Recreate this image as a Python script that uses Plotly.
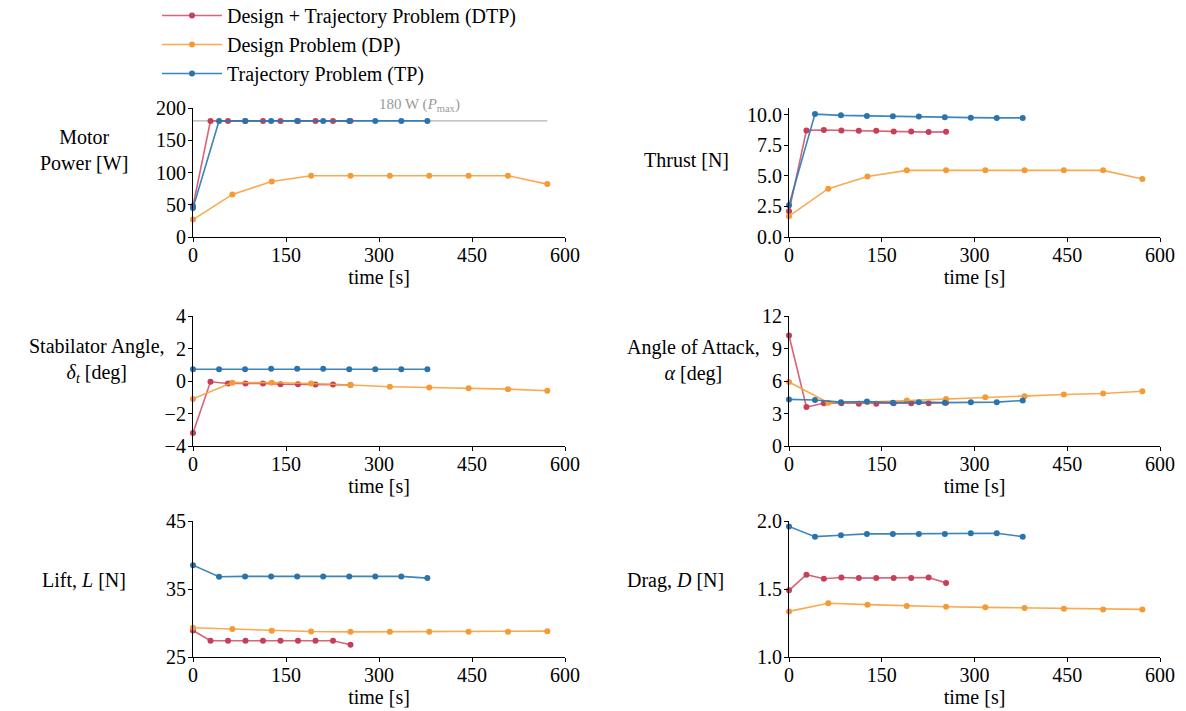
import plotly.graph_objects as go

# ---------------- data ----------------
t_dtp = [0, 28.2, 56.4, 84.7, 112.9, 141.1, 169.3, 197.6, 225.8, 254.0]
t_dp = [0, 63.5, 127.0, 190.5, 254.0, 317.5, 381.0, 444.5, 508.0, 571.5]
t_tp = [0, 42, 84, 126, 168, 210, 252, 294, 336, 378]

power_dtp = [48, 180, 180, 180, 180, 180, 180, 180, 180, 180]
power_dp = [27, 66, 86, 95, 95, 95, 95, 95, 95, 82]
power_tp = [45, 180, 180, 180, 180, 180, 180, 180, 180, 180]
P_MAX = 180

thrust_dtp = [2.1, 8.72, 8.75, 8.72, 8.68, 8.68, 8.62, 8.62, 8.58, 8.6]
thrust_dp = [1.7, 3.95, 4.95, 5.45, 5.45, 5.45, 5.45, 5.45, 5.45, 4.75]
thrust_tp = [2.6, 10.05, 9.95, 9.9, 9.87, 9.85, 9.8, 9.76, 9.74, 9.74]

stab_dtp = [-3.2, -0.05, -0.15, -0.15, -0.15, -0.2, -0.2, -0.22, -0.22, -0.25]
stab_dp = [-1.1, -0.1, -0.1, -0.15, -0.25, -0.35, -0.4, -0.45, -0.5, -0.6]
stab_tp = [0.72, 0.72, 0.72, 0.76, 0.76, 0.76, 0.72, 0.72, 0.72, 0.72]

aoa_dtp = [10.2, 3.6, 3.95, 3.95, 3.9, 3.9, 3.95, 3.95, 3.95, 4.0]
aoa_dp = [5.9, 4.0, 4.05, 4.2, 4.35, 4.5, 4.6, 4.75, 4.85, 5.05]
aoa_tp = [4.3, 4.25, 4.05, 4.1, 4.0, 4.05, 4.0, 4.05, 4.05, 4.2]

lift_dtp = [28.9, 27.4, 27.4, 27.4, 27.4, 27.4, 27.4, 27.4, 27.4, 26.8]
lift_dp = [29.3, 29.1, 28.85, 28.75, 28.7, 28.7, 28.7, 28.7, 28.7, 28.8]
lift_tp = [38.5, 36.8, 36.85, 36.85, 36.85, 36.85, 36.85, 36.85, 36.85, 36.6]

drag_dtp = [1.49, 1.605, 1.575, 1.585, 1.58, 1.58, 1.58, 1.58, 1.585, 1.545]
drag_dp = [1.335, 1.395, 1.385, 1.375, 1.37, 1.365, 1.36, 1.355, 1.35, 1.35]
drag_tp = [1.96, 1.885, 1.895, 1.905, 1.905, 1.905, 1.905, 1.91, 1.91, 1.885]

series_names = ["Design + Trajectory Problem (DTP)", "Design Problem (DP)", "Trajectory Problem (TP)"]
x_ticks = [0, 150, 300, 450, 600]

panels = [
    # (ylabel, [dtp, dp, tp], range, tickvals, tickformat)
    ("Motor<br>Power [W]", [power_dtp, power_dp, power_tp], [0, 200], [0, 50, 100, 150, 200], "d"),
    ("Thrust [N]", [thrust_dtp, thrust_dp, thrust_tp], [0, 10.55], [0, 2.5, 5, 7.5, 10], ".1f"),
    ("Stabilator Angle,<br><i>δ<sub>t</sub></i> [deg]", [stab_dtp, stab_dp, stab_tp], [-4, 4], [-4, -2, 0, 2, 4], "d"),
    ("Angle of Attack,<br><i>α</i> [deg]", [aoa_dtp, aoa_dp, aoa_tp], [0, 12], [0, 3, 6, 9, 12], "d"),
    ("Lift, <i>L</i> [N]", [lift_dtp, lift_dp, lift_tp], [25, 45], [25, 35, 45], "d"),
    ("Drag, <i>D</i> [N]", [drag_dtp, drag_dp, drag_tp], [1.0, 2.0], [1.0, 1.5, 2.0], ".1f"),
]

# ---------------- style ----------------
OFF = 0  # body margin removed by post_script below
W, H = 1186, 711
FONT = "Liberation Serif"
line_colors = ["rgba(209,73,98,0.85)", "rgba(250,160,60,0.9)", "rgba(40,120,180,0.9)"]
marker_colors = ["#c63e58", "#f59a35", "#2a74ae"]
times = [t_dtp, t_dp, t_tp]


def fx(px):
    return (px - OFF) / W


def fy(py):
    return 1 - (py - OFF) / H


col_px = [(193, 565), (789, 1160)]
row_px = [(108, 237), (316, 446), (521, 657)]
ylabel_pos = [(84, 150), (686, 160), (97, 360), (694, 360), (84, 580), (675, 580)]

fig = go.Figure()
layout_axes = {}
annotations = []

for i, (ylab, ydata, yr, yt, yfmt) in enumerate(panels):
    r, c = divmod(i, 2)
    n = i + 1
    xa = "x" if n == 1 else f"x{n}"
    ya = "y" if n == 1 else f"y{n}"
    for k in range(3):
        fig.add_trace(go.Scatter(
            x=times[k], y=ydata[k], mode="lines+markers",
            name=series_names[k], legendgroup=series_names[k],
            showlegend=(i == 0),
            line=dict(color=line_colors[k], width=1.6),
            marker=dict(color=marker_colors[k], size=6),
            cliponaxis=False, xaxis=xa, yaxis=ya,
        ))
    x0, x1 = col_px[c]
    y0, y1 = row_px[r]
    layout_axes[f"xaxis{'' if n == 1 else n}"] = dict(
        domain=[fx(x0), fx(x1)], anchor=ya, range=[0, 600], tickvals=x_ticks,
        showline=True, linecolor="black", linewidth=1.2, ticks="outside",
        ticklen=4, tickcolor="black", showgrid=False, zeroline=False,
        automargin=False, ticklabelstandoff=-4,
        tickfont=dict(family=FONT, size=20, color="black"),
        title=dict(text="time [s]", font=dict(family=FONT, size=20, color="black"), standoff=4),
    )
    layout_axes[f"yaxis{'' if n == 1 else n}"] = dict(
        domain=[fy(y1), fy(y0)], anchor=xa, range=yr, tickvals=yt,
        tickformat=yfmt, automargin=False, ticklabelstandoff=-2,
        showline=True, linecolor="black", linewidth=1.2, ticks="outside",
        ticklen=4, tickcolor="black", showgrid=False, zeroline=False,
        tickfont=dict(family=FONT, size=20, color="black"),
    )
    lx, ly = ylabel_pos[i]
    annotations.append(dict(
        text=ylab, x=fx(lx), y=fy(ly), xref="paper", yref="paper",
        showarrow=False, xanchor="center", yanchor="middle", align="center",
        font=dict(family=FONT, size=20, color="black"),
    ))

# P_max reference line and label
fig.add_shape(type="line", xref="x", yref="y", x0=0, x1=max(t_dp), y0=P_MAX, y1=P_MAX,
              line=dict(color="#b0b0b0", width=1.2), layer="below")
annotations.append(dict(
    text=f"{P_MAX} W (<i>P</i><sub>max</sub>)", x=365, y=P_MAX, xref="x", yref="y",
    showarrow=False, yanchor="bottom", xanchor="center", yshift=5,
    font=dict(family=FONT, size=15, color="#9a9a9a"),
))

fig.update_layout(
    width=W, height=H, margin=dict(l=0, r=0, t=0, b=0, autoexpand=False),
    paper_bgcolor="white", plot_bgcolor="white",
    font=dict(family=FONT, color="black"),
    annotations=annotations,
    legend=dict(x=fx(157), y=fy(-4), xanchor="left", yanchor="top",
                font=dict(family=FONT, size=20, color="black"),
                tracegroupgap=0, bgcolor="rgba(0,0,0,0)", itemwidth=60),
    **layout_axes,
)

fig.write_html(
    "out.html",
    config={"displayModeBar": False},
    post_script="document.body.style.margin='0';document.body.style.overflow='hidden';",
)
